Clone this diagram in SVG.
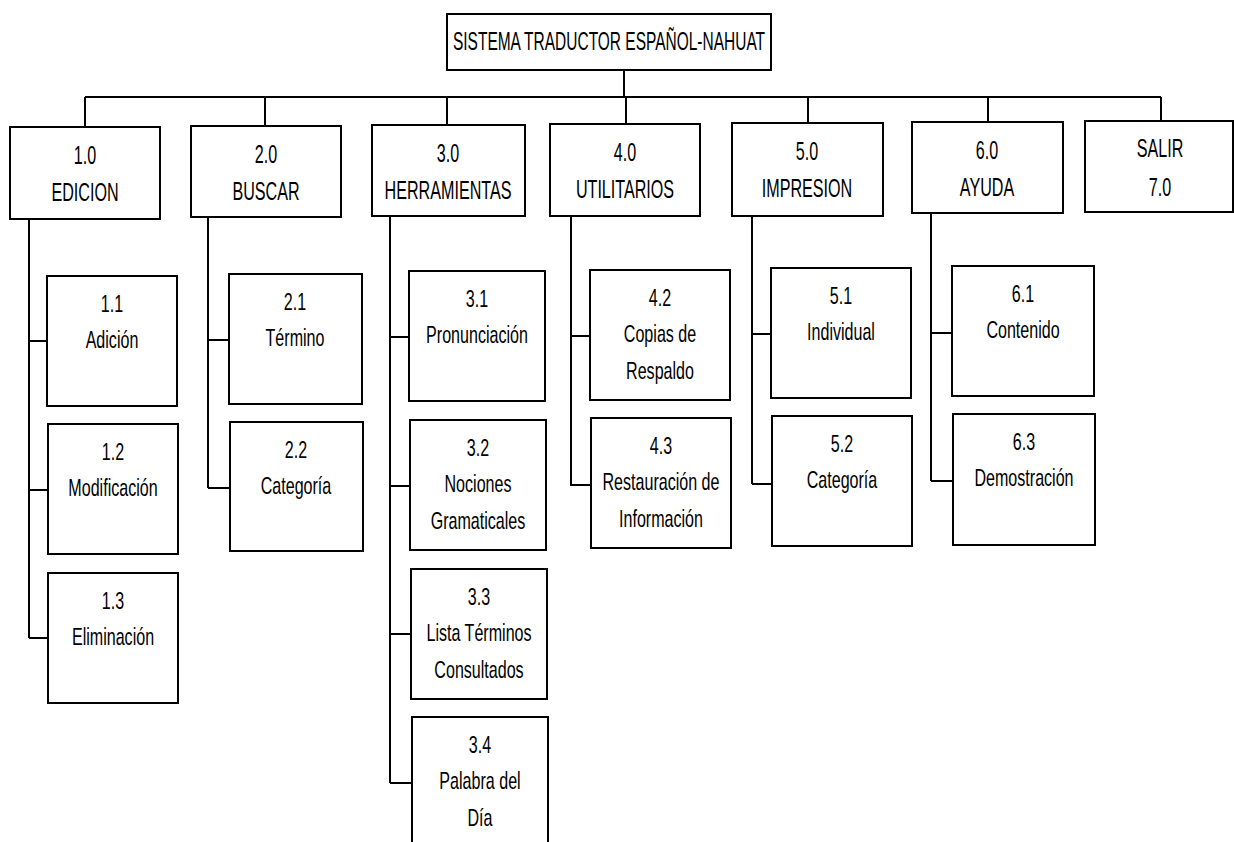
<svg xmlns="http://www.w3.org/2000/svg" width="1234" height="842" viewBox="0 0 1234 842">
<style>
.b{fill:#fff;stroke:#000;stroke-width:2}
.c{fill:none;stroke:#000;stroke-width:2}
text{font-family:"Liberation Sans",Arial,sans-serif;font-size:24px;fill:#000;text-anchor:middle}
.h{font-size:26px}
.r{font-size:25px}
</style>
<rect width="1234" height="842" fill="#fff"/>
<g id="connectors">
<path class="c" d="M624 70V97M85 97H1161M85 97V127M265 97V126M447 97V125M626 97V124M808 97V123M988 97V122M1161 97V121"/>
<path class="c" d="M29 219V638M29 341H47M29 490H48M29 638H48"/>
<path class="c" d="M208 217V488M208 340H229M208 488H230"/>
<path class="c" d="M390 216V783M390 337H409M390 486H410M390 634H411M390 783H412"/>
<path class="c" d="M571 216V486M571 336H590M571 485H591"/>
<path class="c" d="M752 215V484M752 334H771M752 484H772"/>
<path class="c" d="M931 213V481M931 333H952M931 481H953"/>
</g>
<g id="root"><rect class="b" x="447" y="14" width="324" height="56"/><text class="r" transform="matrix(0.62 0 0 1 609 50)">SISTEMA TRADUCTOR ESPAÑOL-NAHUAT</text></g>
<g id="n1"><rect class="b" x="10" y="127" width="150" height="92"/><text class="h" transform="matrix(0.62 0 0 1 85 164)">1.0</text><text class="h" transform="matrix(0.62 0 0 1 85 201)">EDICION</text></g>
<g id="n2"><rect class="b" x="191" y="126" width="150" height="91"/><text class="h" transform="matrix(0.62 0 0 1 266 163)">2.0</text><text class="h" transform="matrix(0.62 0 0 1 266 200)">BUSCAR</text></g>
<g id="n3"><rect class="b" x="372" y="125" width="153" height="91"/><text class="h" transform="matrix(0.62 0 0 1 448 162)">3.0</text><text class="h" transform="matrix(0.62 0 0 1 448 199)">HERRAMIENTAS</text></g>
<g id="n4"><rect class="b" x="550" y="124" width="150" height="92"/><text class="h" transform="matrix(0.62 0 0 1 625 161)">4.0</text><text class="h" transform="matrix(0.62 0 0 1 625 198)">UTILITARIOS</text></g>
<g id="n5"><rect class="b" x="732" y="123" width="151" height="93"/><text class="h" transform="matrix(0.62 0 0 1 807 160)">5.0</text><text class="h" transform="matrix(0.62 0 0 1 807 197)">IMPRESION</text></g>
<g id="n6"><rect class="b" x="912" y="122" width="151" height="91"/><text class="h" transform="matrix(0.62 0 0 1 987 159)">6.0</text><text class="h" transform="matrix(0.62 0 0 1 987 196)">AYUDA</text></g>
<g id="n7"><rect class="b" x="1085" y="121" width="148" height="91"/><text class="h" transform="matrix(0.62 0 0 1 1160 157)">SALIR</text><text class="h" transform="matrix(0.62 0 0 1 1160 196)">7.0</text></g>
<g id="n11"><rect class="b" x="47" y="276" width="130" height="130"/><text transform="matrix(0.67 0 0 1 112 312)">1.1</text><text transform="matrix(0.67 0 0 1 112 348)">Adición</text></g>
<g id="n12"><rect class="b" x="48" y="424" width="130" height="130"/><text transform="matrix(0.67 0 0 1 113 460)">1.2</text><text transform="matrix(0.67 0 0 1 113 496)">Modificación</text></g>
<g id="n13"><rect class="b" x="48" y="573" width="130" height="130"/><text transform="matrix(0.67 0 0 1 113 609)">1.3</text><text transform="matrix(0.67 0 0 1 113 645)">Eliminación</text></g>
<g id="n21"><rect class="b" x="229" y="274" width="133" height="130"/><text transform="matrix(0.67 0 0 1 295 310)">2.1</text><text transform="matrix(0.67 0 0 1 295 346)">Término</text></g>
<g id="n22"><rect class="b" x="230" y="422" width="133" height="129"/><text transform="matrix(0.67 0 0 1 296 458)">2.2</text><text transform="matrix(0.67 0 0 1 296 494)">Categoría</text></g>
<g id="n31"><rect class="b" x="409" y="271" width="136" height="130"/><text transform="matrix(0.67 0 0 1 477 307)">3.1</text><text transform="matrix(0.67 0 0 1 477 343)">Pronunciación</text></g>
<g id="n32"><rect class="b" x="410" y="420" width="136" height="130"/><text transform="matrix(0.67 0 0 1 478 456)">3.2</text><text transform="matrix(0.67 0 0 1 478 492)">Nociones</text><text transform="matrix(0.67 0 0 1 478 529)">Gramaticales</text></g>
<g id="n33"><rect class="b" x="411" y="569" width="136" height="130"/><text transform="matrix(0.67 0 0 1 479 605)">3.3</text><text transform="matrix(0.67 0 0 1 479 641)">Lista Términos</text><text transform="matrix(0.67 0 0 1 479 678)">Consultados</text></g>
<g id="n34"><rect class="b" x="412" y="717" width="136" height="135"/><text transform="matrix(0.67 0 0 1 480 753)">3.4</text><text transform="matrix(0.67 0 0 1 480 789)">Palabra del</text><text transform="matrix(0.67 0 0 1 480 826)">Día</text></g>
<g id="n42"><rect class="b" x="590" y="270" width="140" height="130"/><text transform="matrix(0.67 0 0 1 660 306)">4.2</text><text transform="matrix(0.67 0 0 1 660 342)">Copias de</text><text transform="matrix(0.67 0 0 1 660 379)">Respaldo</text></g>
<g id="n43"><rect class="b" x="591" y="418" width="140" height="130"/><text transform="matrix(0.67 0 0 1 661 454)">4.3</text><text transform="matrix(0.67 0 0 1 661 490)">Restauración de</text><text transform="matrix(0.67 0 0 1 661 527)">Información</text></g>
<g id="n51"><rect class="b" x="771" y="268" width="140" height="130"/><text transform="matrix(0.67 0 0 1 841 304)">5.1</text><text transform="matrix(0.67 0 0 1 841 340)">Individual</text></g>
<g id="n52"><rect class="b" x="772" y="416" width="140" height="130"/><text transform="matrix(0.67 0 0 1 842 452)">5.2</text><text transform="matrix(0.67 0 0 1 842 488)">Categoría</text></g>
<g id="n61"><rect class="b" x="952" y="266" width="142" height="130"/><text transform="matrix(0.67 0 0 1 1023 302)">6.1</text><text transform="matrix(0.67 0 0 1 1023 338)">Contenido</text></g>
<g id="n63"><rect class="b" x="953" y="414" width="142" height="131"/><text transform="matrix(0.67 0 0 1 1024 450)">6.3</text><text transform="matrix(0.67 0 0 1 1024 486)">Demostración</text></g>
</svg>
